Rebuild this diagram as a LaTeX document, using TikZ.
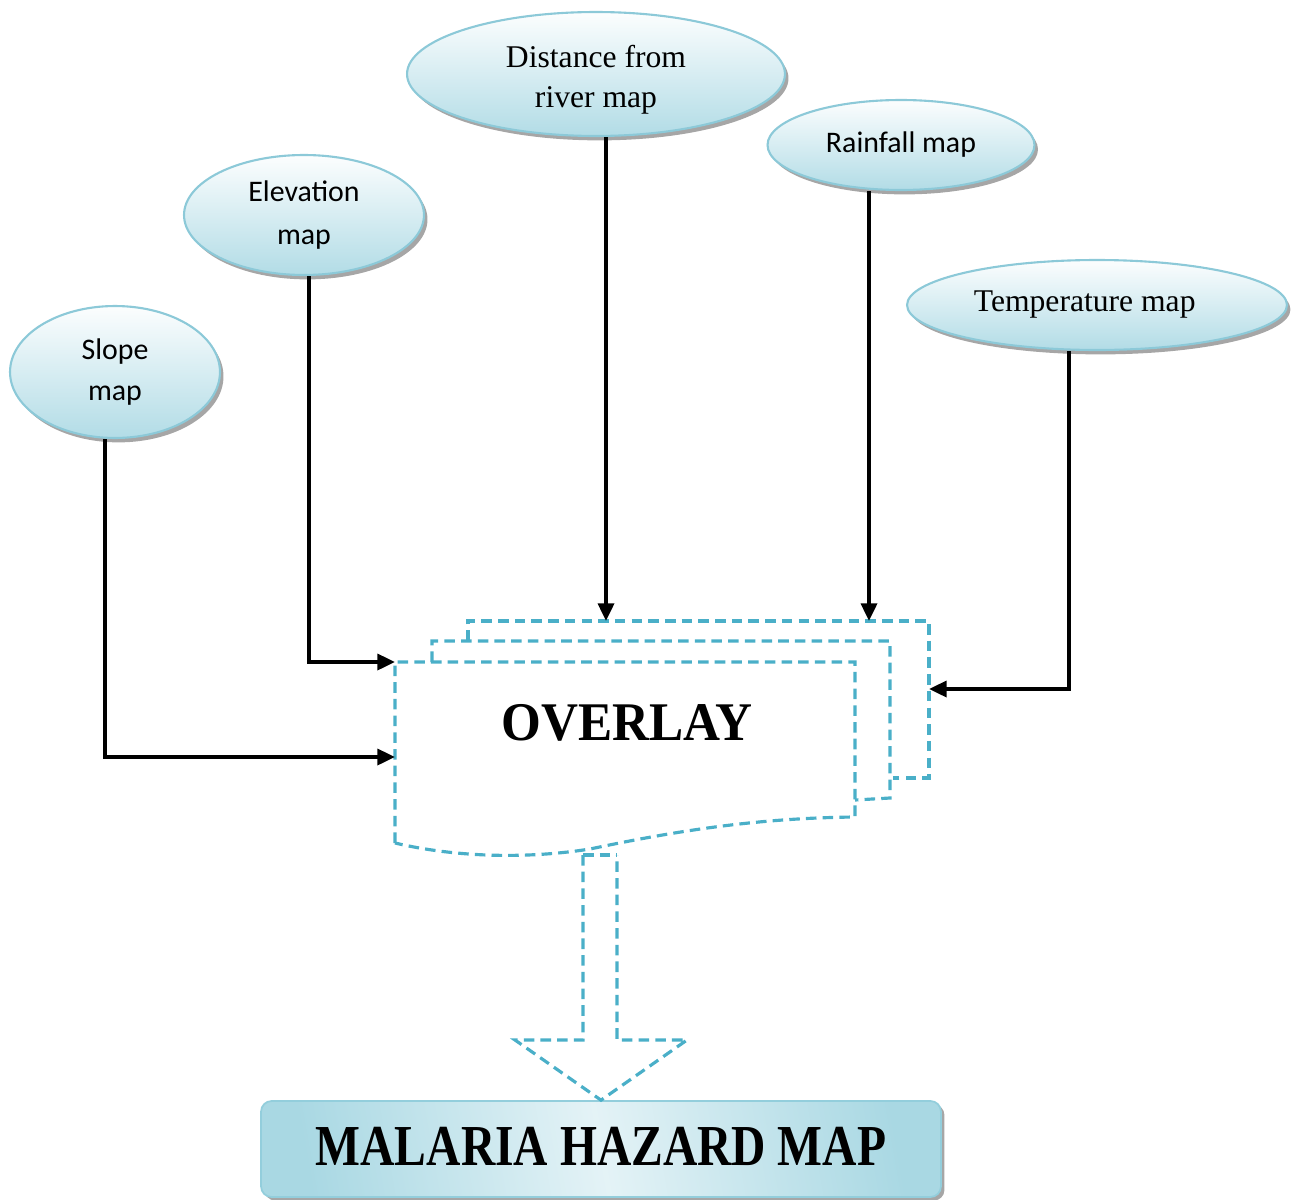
\documentclass[tikz,border=0pt]{standalone}
\usepackage{fontspec}
\setmainfont{Liberation Serif}
\newfontfamily\calfont{Carlito}
\usetikzlibrary{shapes.geometric,shadows,arrows.meta}
\definecolor{ellline}{HTML}{8CC9D8}
\definecolor{ellblue}{HTML}{B2DCE6}
\definecolor{dashblue}{HTML}{4AAFC8}
\definecolor{boxblue}{HTML}{93CEDC}
\tikzset{
  mapell/.style={ellipse, draw=ellline, line width=1.2pt, top color=white!96!ellblue,
    bottom color=ellblue, inner sep=0pt, align=center, font=\fontsize{18}{23}\selectfont,
    drop shadow={shadow xshift=2pt, shadow yshift=-2.5pt, fill=gray!70, opacity=1}},
  sansell/.style={mapell, font=\calfont\fontsize{17}{23}\selectfont},
  feed/.style={line width=2.2pt, -{Triangle[length=10pt,width=9pt]}},
  page/.style={dashblue, line width=1.8pt, dash pattern=on 6pt off 3.5pt},
  hazardbox/.style={rectangle, rounded corners=6pt, draw=boxblue, line width=1pt,
    left color=boxblue!80, right color=boxblue!80, middle color=white!75!boxblue, shading angle=100,
    minimum width=13.6cm, minimum height=1.92cm,
    drop shadow={shadow xshift=2pt, shadow yshift=-2pt, fill=gray!70, opacity=1}}
}
\begin{document}
\begin{tikzpicture}[x=0.02cm,y=-0.02cm]
\useasboundingbox (0,0) rectangle (1295,1200);
% input maps
\node[sansell, minimum width=4.2cm, minimum height=2.64cm] (slope) at (115,372) {Slope\\map};
\node[sansell, minimum width=4.8cm, minimum height=2.4cm] (elev) at (304,215) {Elevation\\[2pt]map};
\node[mapell, minimum width=7.56cm, minimum height=2.48cm] (river) at (596,74) {\\[-4pt]Distance from\\river map};
\node[sansell, minimum width=5.34cm, minimum height=1.8cm] (rain) at (901,145) {Rainfall map};
\node[mapell, minimum width=7.6cm, minimum height=1.8cm] (temp) at (1097,305) {Temperature map\hspace*{14pt}};
% where the arrows meet the stack
\coordinate (sin) at (395,757);
\coordinate (ein) at (395,662);
\coordinate (dtop) at (606,621);
\coordinate (rtop) at (869,621);
\coordinate (tin) at (929,689);
% overlay stack
\draw[page] (468,641) -- (468,621) -- (929,621) -- (929,778) -- (893,778);
\draw[page] (432,662) -- (432,641) -- (890,641) -- (890,798) -- (855,800);
\draw[page] (395,843) -- (395,662) -- (855,662) -- (855,817)
  .. controls (760,818) and (680,830) .. (590,849)
  .. controls (520,860) and (450,856) .. (395,843);
\node[font=\bfseries\fontsize{31}{31}\selectfont] (overlay) at (627,723) {\scalebox{0.94}[1]{OVERLAY}};
% connectors
\draw[feed] (slope.south -| 105,0) |- (sin);
\draw[feed] (elev.south -| 309,0) |- (ein);
\draw[feed] (river.south -| dtop) -- (dtop);
\draw[feed] (rain.south -| rtop) -- (rtop);
\draw[feed] (temp.south -| 1069,0) |- (tin);
% result
\node[hazardbox, font=\bfseries\fontsize{33}{33}\selectfont] (hazard) at (601,1149) {\raisebox{3pt}{\scalebox{0.82}[1]{MALARIA HAZARD MAP}}};
\draw[page] (583,855) -- (617,855);
\draw[page] (583,855) -- (583,1040) -- (515,1040) -- (hazard.north) -- (687,1040) -- (617,1040) -- (617,855);
\end{tikzpicture}
\end{document}
